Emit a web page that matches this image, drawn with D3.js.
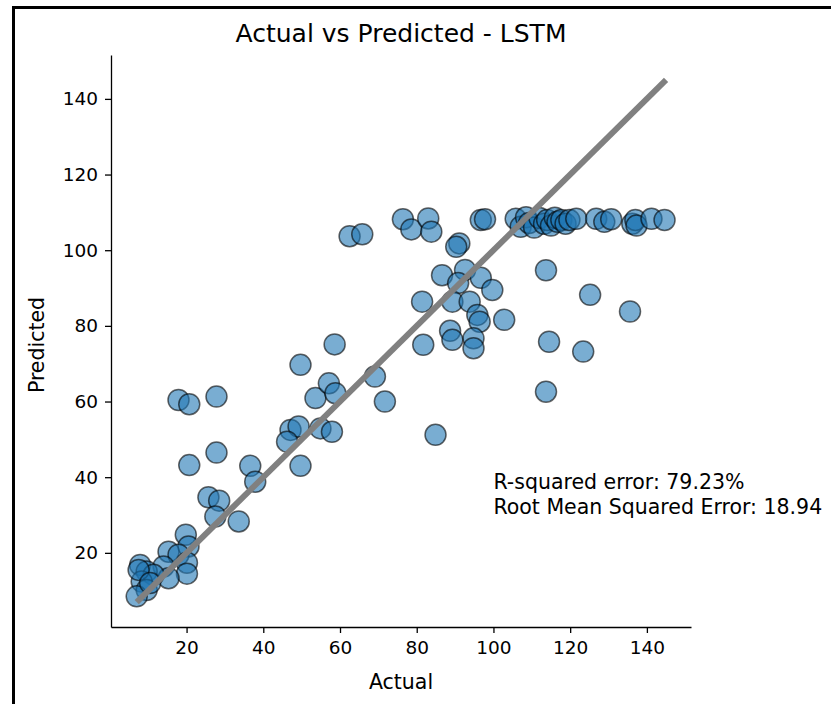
<!DOCTYPE html>
<html><head><meta charset="utf-8">
<script src="https://cdn.jsdelivr.net/npm/d3@7"></script>
<style>body{margin:0;background:#fff}svg{display:block}text{font-family:"DejaVu Sans",sans-serif;fill:#000}</style>
</head><body>
<script>
const actual = [76.4,78.6,83.0,83.8,91.1,90.3,96.7,97.8,62.5,65.8,
  105.8,107.1,108.5,109.3,110.6,112.0,113.2,114.0,115.0,116.0,116.7,117.7,118.8,119.8,121.6,
  126.8,128.9,130.7,136.2,137.0,137.3,141.2,144.6,
  86.6,92.6,96.7,90.8,99.7,81.4,89.3,93.8,95.8,96.4,102.8,88.7,89.3,94.8,94.8,81.7,
  113.7,125.2,135.6,114.5,123.4,113.7,84.9,71.7,69.1,
  17.9,20.7,27.8,27.8,20.7,36.6,37.9,25.7,28.5,27.5,33.6,19.8,20.5,15.3,17.9,20.1,20.1,14.0,15.3,
  7.9,9.6,11.4,8.3,9.6,7.0,7.5,10.5,
  53.6,57.1,58.8,47.1,49.2,46.2,54.9,57.9,49.7,58.6,49.7];
const predicted = [108.2,105.5,108.4,104.9,101.8,100.9,108.0,108.2,103.7,104.2,
  108.3,106.2,108.7,107.2,106.0,108.5,107.0,108.0,106.5,108.6,107.5,108.0,107.0,108.0,108.3,
  108.3,107.5,108.2,107.0,108.0,106.5,108.3,108.0,
  93.4,94.8,92.7,91.3,89.5,86.4,86.4,86.4,82.9,81.1,81.6,78.7,76.3,76.7,74.1,75.0,
  94.7,88.2,83.8,75.8,73.2,62.6,51.2,60.0,66.6,
  60.4,59.3,61.3,46.5,43.2,43.0,38.8,34.7,33.8,29.6,28.3,24.8,21.7,20.3,19.5,17.4,14.5,16.4,13.3,
  16.8,15.1,14.2,12.4,10.2,8.5,15.5,12.0,
  60.9,64.8,62.2,52.5,53.4,49.4,52.9,52.0,43.0,75.1,69.7];
const idealLine = [7.0, 145.0];
const xTicks = [20,40,60,80,100,120,140];
const yTicks = [20,40,60,80,100,120,140];
const title = "Actual vs Predicted - LSTM";
const annotations = ["R-squared error: 79.23%", "Root Mean Squared Error: 18.94"];

const W = 831, H = 704;
const svg = d3.select("body").append("svg").attr("width", W).attr("height", H);

svg.append("path").attr("d", "M13.5,704 V7.5 H831").attr("fill","none").attr("stroke","#000").attr("stroke-width",3);

const mL = 111, mR = 691, mT = 55, mB = 627;
const x = d3.scaleLinear().domain([0.3, 151.5]).range([mL, mR]);
const y = d3.scaleLinear().domain([0.4, 151.6]).range([mB, mT]);

const xAxis = svg.append("g").attr("transform", `translate(0,${mB})`)
  .call(d3.axisBottom(x).tickValues(xTicks).tickSize(6).tickPadding(8).tickSizeOuter(0));
const yAxis = svg.append("g").attr("transform", `translate(${mL},0)`)
  .call(d3.axisLeft(y).tickValues(yTicks).tickSize(6).tickPadding(7).tickSizeOuter(0));
[xAxis, yAxis].forEach(g => {
  g.select(".domain").attr("stroke","#000").attr("stroke-width",1.3);
  g.selectAll(".tick line").attr("stroke","#000").attr("stroke-width",1.3);
  g.selectAll(".tick text").attr("font-size", 18.5).attr("font-family","DejaVu Sans").attr("fill","#000");
});

svg.append("g").selectAll("circle").data(actual.map((a,i)=>[a, predicted[i]])).join("circle")
  .attr("cx", d => x(d[0])).attr("cy", d => y(d[1])).attr("r", 10.5)
  .attr("fill", "rgba(31,119,180,0.6)").attr("stroke", "rgba(0,0,0,0.6)").attr("stroke-width", 1.5);

svg.append("line")
  .attr("x1", x(idealLine[0])).attr("y1", y(idealLine[0]))
  .attr("x2", x(idealLine[1])).attr("y2", y(idealLine[1]))
  .attr("stroke", "#808080").attr("stroke-width", 6);

svg.append("text").attr("x", 401).attr("y", 42).attr("text-anchor","middle").attr("font-size", 25).text(title);
svg.append("text").attr("x", 401).attr("y", 689).attr("text-anchor","middle").attr("font-size", 20.5).text("Actual");
svg.append("text").attr("transform", "translate(44,345) rotate(-90)").attr("text-anchor","middle").attr("font-size", 20.5).text("Predicted");

svg.append("g").selectAll("text").data(annotations).join("text")
  .attr("x", x(100)).attr("y", (d,i) => 489 + i*24.5).attr("font-size", 20.5).text(d => d);
</script>
</body></html>
